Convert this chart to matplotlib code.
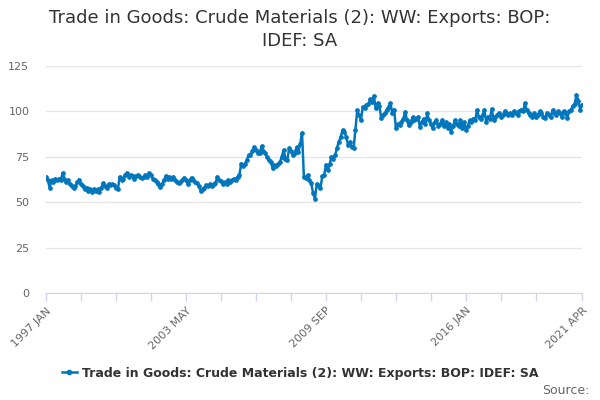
import matplotlib
matplotlib.use("Agg")
import matplotlib.pyplot as plt
from matplotlib.lines import Line2D

BLUE = "#0077BD"; GRID = "#E6E6E6"; AXIS = "#CCD6EB"; TXT = "#333333"; TICK = "#666666"

TITLE = "Trade in Goods: Crude Materials (2): WW: Exports: BOP:\nIDEF: SA"
SERIES = "Trade in Goods: Crude Materials (2): WW: Exports: BOP: IDEF: SA"

# monthly values, 1997 JAN .. 2021 APR
values = [
    64, 62, 58, 62, 61, 63, 62, 63, 62, 66, 63, 61,                    # 1997
    62, 60, 59, 57.6, 59, 61, 62.5, 60, 59, 57, 58, 56,                # 1998
    57, 55.7, 57, 56, 57, 55.7, 58, 60.3, 59, 58, 60, 59.5,            # 1999
    60, 59.5, 58, 57, 64, 62, 63, 65, 66.2, 64, 65, 64.5,              # 2000
    63, 64.5, 65, 64, 63.5, 64, 65, 64, 66.2, 65, 63, 62,              # 2001
    61, 60, 58.5, 60, 62, 64.3, 63, 64, 63, 64, 62, 61,                # 2002
    60.7, 61, 62, 63.5, 62, 60, 62, 63.6, 62, 61, 60.4, 59,            # 2003
    56.3, 57, 58, 59.5, 59, 60, 59, 60, 60.4, 64, 62, 61.5,            # 2004
    60, 61, 60, 62, 61, 62, 63, 62.5, 64, 65, 71.3, 70,                # 2005
    71, 73.2, 75.9, 76, 78, 80.2, 79, 76.9, 77, 80.9, 78, 77,          # 2006
    75, 73, 72, 69.1, 70.5, 70, 71.3, 72, 75, 78.7, 74, 73.2,          # 2007
    79.6, 78, 76, 77, 80.2, 77.6, 82, 88.2, 64, 63.5, 64.9, 62,        # 2008
    60.4, 55, 52, 60, 59, 57.6, 64.3, 65, 70.4, 67.6, 71, 75,          # 2009
    74, 75.9, 80, 83.3, 86, 89.7, 88.8, 86, 81.4, 83, 80.5, 79.6,      # 2010
    90, 100.7, 98, 95.2, 102.6, 102, 103.4, 104, 106.6, 105, 108.5, 101.7,  # 2011
    104.5, 103, 96.2, 98, 99, 101, 102.6, 104.5, 99.3, 101, 90.6, 93,  # 2012
    92.5, 94, 96, 99.8, 95, 92.5, 94, 96.7, 95, 96, 97, 91.5,          # 2013
    94, 96, 93, 98.9, 95, 93, 90.6, 94, 95, 92, 93, 95,                # 2014
    92, 94, 91, 93, 88.8, 92, 95, 93, 92, 95, 91, 94,                  # 2015
    89.7, 92, 95, 94, 96, 95, 100.7, 97, 96, 98, 100.7, 94.3,          # 2016
    97, 96, 101.3, 95.2, 97, 98, 99, 97, 98, 100, 99, 98,              # 2017
    99, 98, 100, 99, 98, 100, 101, 100, 104.4, 100.7, 99, 98,          # 2018
    97, 99, 96.7, 98, 100, 99, 97, 96.2, 99, 98, 97, 100.7,            # 2019
    99, 98, 100, 99, 97, 100, 99, 96.2, 100, 101, 103, 104,            # 2020
    109, 106, 101, 103.5,                                              # 2021
]
months = list(range(len(values)))
tick_labels = ["1997 JAN", "2003 MAY", "2009 SEP", "2016 JAN", "2021 APR"]
label_pos = [0, 76, 152, 228, 291]
minor_pos = list(range(0, 280, 19)) + [291]
yticks = [0, 25, 50, 75, 100, 125]

fig = plt.figure(figsize=(6, 4), dpi=100)
ax = fig.add_axes([46 / 600, 1 - 293 / 400, 536 / 600, 227 / 400])

ax.plot(months, values, color=BLUE, lw=1.8, marker="o", ms=2.4, zorder=3)
ax.set_xlim(0, 291)
ax.set_ylim(0, 125)

ax.set_yticks(yticks)
ax.yaxis.grid(True, color=GRID, lw=1)
ax.set_axisbelow(True)
ax.tick_params(axis="y", length=0, labelsize=8, labelcolor=TICK, pad=12)

ax.set_xticks(label_pos)
ax.set_xticklabels(tick_labels, rotation=45, ha="right", rotation_mode="anchor",
                   fontsize=8, color=TICK)
ax.set_xticks(minor_pos, minor=True)
ax.tick_params(axis="x", which="both", length=6, color=AXIS, width=1, pad=3)
for s in ("top", "right", "left"):
    ax.spines[s].set_visible(False)
ax.spines["bottom"].set_color(AXIS)

fig.text(0.5, 0.978, TITLE, ha="center", va="top", fontsize=13, color=TXT, linespacing=1.4)

h = Line2D([], [], color=BLUE, lw=1.8, marker="o", ms=3)
fig.legend([h], [SERIES], loc="center", bbox_to_anchor=(0.5, 1 - 373 / 400), frameon=False,
           prop={"size": 9, "weight": "bold"}, labelcolor=TXT, handlelength=1.2, handletextpad=0.4)
fig.text(0.982, 1 - 390 / 400, "Source:", ha="right", va="center", fontsize=9, color=TICK)

fig.savefig("out.png", dpi=100)
